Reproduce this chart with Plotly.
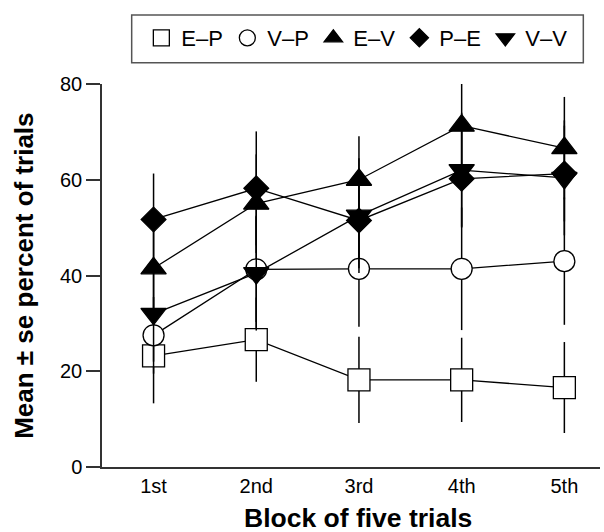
import plotly.graph_objects as go

blocks = [1, 2, 3, 4, 5]
block_labels = ["1st", "2nd", "3rd", "4th", "5th"]

series_names = ["E–P", "V–P", "E–V", "P–E", "V–V"]
ep_mean = [23.2, 26.6, 18.2, 18.2, 16.6]
ep_se = [9.9, 8.8, 9.0, 8.8, 9.5]
vp_mean = [27.5, 41.3, 41.4, 41.4, 43.0]
vp_se = [8.0, 11.0, 12.1, 12.8, 13.3]
ev_mean = [41.5, 55.0, 60.0, 71.3, 66.6]
ev_se = [9.0, 10.3, 9.1, 11.2, 10.7]
pe_mean = [51.7, 58.2, 51.5, 60.2, 61.3]
pe_se = [9.6, 11.9, 10.0, 10.0, 10.0]
vv_mean = [32.0, 40.5, 52.5, 62.0, 60.4]
vv_se = [10.0, 12.0, 12.0, 12.0, 12.0]

x_title = "Block of five trials"
y_title = "Mean ± se percent of trials"

means = [ep_mean, vp_mean, ev_mean, pe_mean, vv_mean]
ses = [ep_se, vp_se, ev_se, pe_se, vv_se]
symbols = ["square", "circle", "triangle-up", "diamond", "triangle-down"]
fills = ["white", "white", "black", "black", "black"]
sizes = [22, 21, 22, 19, 22]
legend_sizes = [16, 16, 16, 14, 16]
draw_order = [0, 1, 4, 3, 2]

FONT = "Liberation Sans, Arial, sans-serif"

fig = go.Figure()
for i in draw_order:
    fig.add_trace(go.Scatter(
        x=blocks, y=means[i], mode="lines+markers", name=series_names[i],
        showlegend=False, cliponaxis=False,
        line=dict(color="black", width=1.3),
        marker=dict(symbol=symbols[i], size=sizes[i], color=fills[i],
                    line=dict(color="black", width=1.3)),
        error_y=dict(type="data", array=ses[i], visible=True, color="black",
                     thickness=1.5, width=0),
    ))
for i in range(5):
    fig.add_trace(go.Scatter(
        x=[None], y=[None], mode="markers", name=series_names[i],
        marker=dict(symbol=symbols[i], size=legend_sizes[i], color=fills[i],
                    line=dict(color="black", width=1.3)),
    ))

# legend frame
fig.add_shape(type="rect", xref="paper", yref="paper",
              x0=0.0596, x1=0.9665, y0=1.0556, y1=1.1802,
              line=dict(color="#555", width=1.5), fillcolor="white", layer="below")

# axis titles
fig.add_annotation(text="<b>" + x_title + "</b>", xref="paper", yref="paper",
                   x=0.514, y=-0.134, xanchor="center", yanchor="middle",
                   showarrow=False, font=dict(size=26.5, family=FONT, color="black"))
fig.add_annotation(text="<b>" + y_title + "</b>", xref="paper", yref="paper",
                   x=-0.158, y=0.5, xanchor="center", yanchor="middle",
                   textangle=-90, showarrow=False,
                   font=dict(size=26, family=FONT, color="black"))

fig.update_layout(
    width=604, height=532,
    margin=dict(l=102, r=4, t=84, b=65),
    paper_bgcolor="white", plot_bgcolor="white",
    font=dict(family=FONT, color="black", size=20),
    legend=dict(
        orientation="h", x=0.079, xanchor="left", y=1.12, yanchor="middle",
        borderwidth=0, bgcolor="rgba(0,0,0,0)",
        font=dict(size=22, family=FONT), itemsizing="trace",
        entrywidth=41, entrywidthmode="pixels",
    ),
    xaxis=dict(
        range=[0.498, 5.347], tickmode="array", tickvals=blocks,
        ticktext=block_labels, showline=True, linecolor="#333", linewidth=1.5,
        ticks="", showgrid=False, zeroline=False, automargin=False,
        tickfont=dict(size=20),
    ),
    yaxis=dict(
        range=[0, 80], tickmode="array", tickvals=[0, 20, 40, 60, 80],
        showline=True, linecolor="#333", linewidth=1.5, automargin=False,
        ticks="outside", ticklen=14, tickwidth=1.5, tickcolor="#333",
        showgrid=False, zeroline=False, tickfont=dict(size=20),
    ),
)

fig.write_html("out.html")
